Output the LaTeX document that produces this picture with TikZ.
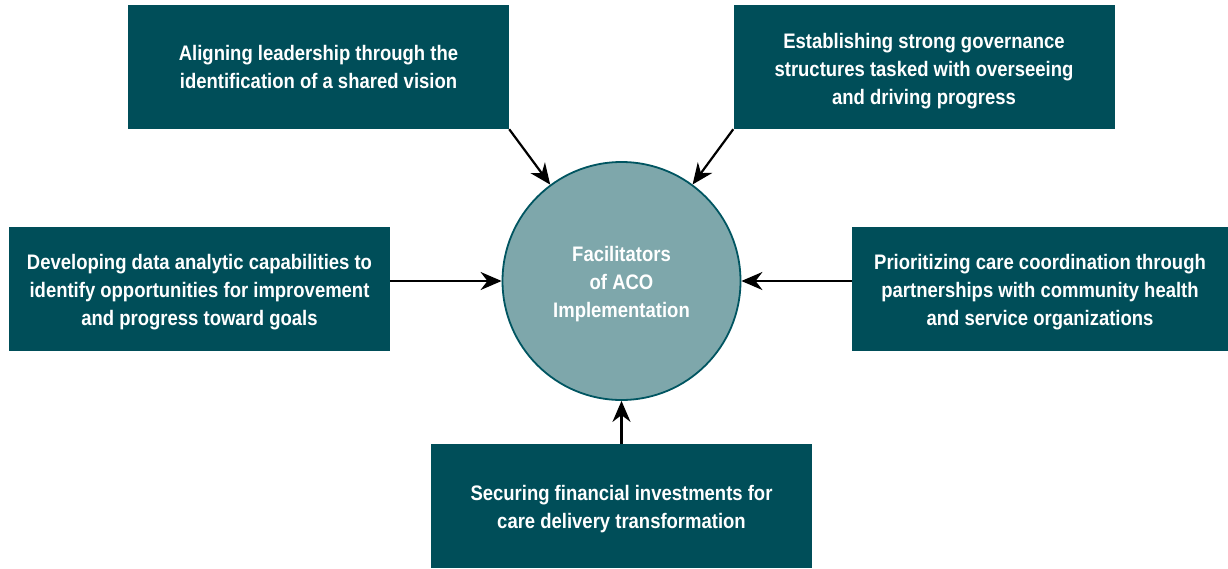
\documentclass[tikz,border=0pt]{standalone}
\usepackage{fontspec}
\setmainfont{Liberation Sans}[FakeStretch=0.88]
\usetikzlibrary{arrows.meta}
\definecolor{boxteal}{HTML}{004E59}
\definecolor{hubfill}{HTML}{7EA7AB}
\definecolor{hubline}{HTML}{005561}
\begin{document}
\begin{tikzpicture}[x=1pt,y=-1pt,
  factor/.style={fill=boxteal, minimum width=381pt, minimum height=124pt, inner sep=0pt},
  caption/.style={text=white, align=center, inner sep=0pt,
    font=\fontsize{21}{28}\selectfont\bfseries},
  hub/.style={circle, fill=hubfill, draw=hubline, line width=1.8pt, minimum size=238pt,
    inner sep=0pt},
  link/.style={-{Stealth[length=21pt,width=18pt]}, line width=2.2pt}]
  \useasboundingbox (0,0) rectangle (1228,568);

  % central circle
  \node[hub] (hub) at (621.5,281) {};
  \node[caption, yshift=-3pt] (hub-t) at (hub.center) {Facilitators\\of ACO\\Implementation};

  % surrounding boxes
  \node[factor] (lead) at (318.5,67) {};
  \node[factor] (gov) at (924,67) {};
  \node[factor] (data) at (199.5,288.5) {};
  \node[factor, minimum width=376pt] (care) at (1040,288.5) {};
  \node[factor] (fin) at (621.5,506) {};

  \node[caption] (lead-t) at (lead.center) {Aligning leadership through the\\identification of a shared vision};
  \node[caption, yshift=-4pt] (gov-t) at (gov.center) {Establishing strong governance\\structures tasked with overseeing\\and driving progress};
  \node[caption, yshift=-4pt] (data-t) at (data.center) {Developing data analytic capabilities to\\identify opportunities for improvement\\and progress toward goals};
  \node[caption, yshift=-4pt] (care-t) at (care.center) {Prioritizing care coordination through\\partnerships with community health\\and service organizations};
  \node[caption, yshift=-3.5pt] (fin-t) at (fin.center) {Securing financial investments for\\care delivery transformation};

  % arrows into the circle
  \draw[link] (lead.south east) -- (hub);
  \draw[link] (gov.south west) -- (hub);
  \draw[link] (data.east |- hub.center) -- (hub);
  \draw[link] (care.west |- hub.center) -- (hub);
  \draw[link] (fin.north) -- (hub);
\end{tikzpicture}
\end{document}
